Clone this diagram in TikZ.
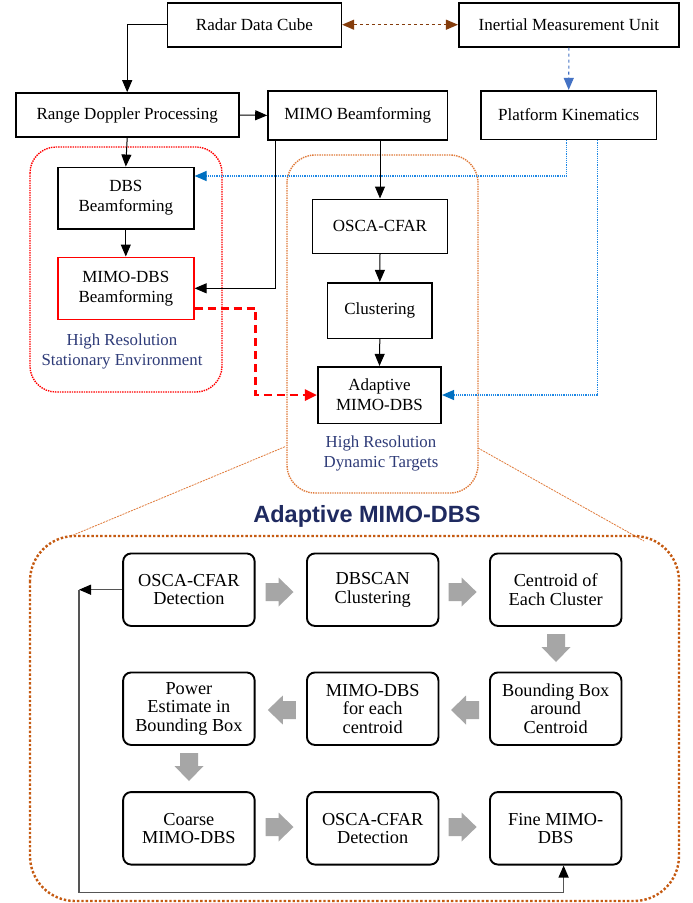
\documentclass[tikz,border=0pt]{standalone}
\usepackage{fontspec}
\setmainfont{Liberation Serif}
\newfontfamily\titlefont{Liberation Sans}
\usetikzlibrary{arrows.meta,calc}
\definecolor{brownarr}{HTML}{843C0C}
\definecolor{imublue}{HTML}{4472C4}
\definecolor{dotblue}{HTML}{1E88E5}
\definecolor{tipblue}{HTML}{0070C0}
\definecolor{regorange}{HTML}{E07A3A}
\definecolor{bigorange}{HTML}{C55A11}
\definecolor{labblue}{HTML}{2E3B78}
\definecolor{titlenavy}{HTML}{1F2A60}
\definecolor{arrowgray}{HTML}{A6A6A6}
\definecolor{fbgray}{HTML}{555555}
\tikzset{
  topbox/.style={draw=black,line width=1.6pt,minimum width=#1,inner sep=0pt,align=center,font=\fontsize{17}{20}\selectfont},
  innerbox/.style={draw=black,line width=1.9pt,rounded corners=8pt,minimum width=131.5pt,minimum height=72.5pt,inner sep=0pt,align=center,font=\fontsize{18.3}{18.5}\selectfont},
  blacktip/.style={-{Triangle[length=12pt,width=10pt]}},
  conn/.style={draw=black,line width=1pt,blacktip},
  bluedot/.style={draw=dotblue,line width=1.2pt,densely dotted,-{Triangle[length=12pt,width=10pt,fill=tipblue,color=tipblue]}},
  region/.style={line width=1.4pt,densely dotted,rounded corners=#1},
  lab/.style={text=labblue,align=center,font=\fontsize{16.8}{20}\selectfont},
  pics/garrow/.style={code={\fill[arrowgray] (-14,-9) -- (-1,-9) -- (-1,-14.5) -- (14,0) -- (-1,14.5) -- (-1,9) -- (-14,9) -- cycle;}}
}
\begin{document}
\begin{tikzpicture}[x=1pt,y=-1pt]
\useasboundingbox (0,0) rectangle (693,903);
\fill[white] (0,0) rectangle (693,903);

% regions
\draw[region=26pt,draw=red] (30,147) rectangle (222,392);
\draw[region=28pt,draw=regorange] (287,155) rectangle (478,493);

% top boxes
\node[topbox=173.7pt,minimum height=44pt] (rdc) at (254.5,24.7) {Radar Data Cube};
\node[topbox=220.3pt,minimum height=44pt] (imu) at (568.9,24.7) {Inertial Measurement Unit};
\node[topbox=223pt,minimum height=44pt] (rdp) at (127.2,115) {Range Doppler Processing};
\node[topbox=179.6pt,minimum height=49pt] (mbf) at (357.8,115.4) {MIMO Beamforming};
\node[topbox=175.4pt,minimum height=48.6pt] (pk) at (568.7,115) {Platform Kinematics};
\node[topbox=136pt,minimum height=61.7pt] (dbs) at (125.8,198.2) {DBS\\Beamforming};
\node[topbox=136pt,minimum height=62pt,draw=red] (mdbs) at (125.8,288.3) {MIMO-DBS\\Beamforming};
\node[topbox=135.2pt,minimum height=54pt] (osca) at (380,226.3) {OSCA-CFAR};
\node[topbox=104.4pt,minimum height=55.6pt] (clus) at (379.8,310.5) {Clustering};
\node[topbox=123.5pt,minimum height=56.6pt] (adap) at (379.5,395) {Adaptive\\MIMO-DBS};

\node[lab] (lab1) at (122,351) {High Resolution\\Stationary Environment};
\node[lab] (lab2) at (381,453.5) {High Resolution\\Dynamic Targets};

% connectors top
\draw[brownarr,line width=1.2pt,dashed,{Triangle[length=12pt,width=10pt]}-{Triangle[length=12pt,width=10pt]}] (rdc.east) -- (imu.west);
\draw[imublue,line width=1.1pt,dashed,-{Triangle[length=12pt,width=10pt]}] (imu.south) -- (pk.north);
\draw[conn] (rdc.west) -| (rdp.north);
\draw[conn] (rdp.east) -- (mbf.west);
\draw[conn] (rdp.south) -- (dbs.north);
\draw[conn] (dbs.south) -- (mdbs.north);
\draw[conn] (mbf.south -| osca.north) -- (osca.north);
\draw[conn] (osca.south) -- (clus.north);
\draw[conn] (clus.south) -- (adap.north);
\coordinate (k1) at (275.6,288.3);
\draw[conn] (mbf.south -| k1) -- (k1) -- (mdbs.east);
\coordinate (r1) at (255.6,308.3);
\coordinate (r2) at (255.6,395);
\draw[red,line width=2.6pt,dash pattern=on 8pt off 5pt,-{Triangle[length=12pt,width=11pt]}] (mdbs.east |- r1) -- (r1) -- (r2) -- (adap.west);
\coordinate (b1) at (566.7,176);
\coordinate (b2) at (597.8,395);
\draw[bluedot] (pk.south -| b1) -- (b1) -- (dbs.east |- b1);
\draw[bluedot] (pk.south -| b2) -- (b2) -- (adap.east);

% zoom lines
\coordinate (z1) at (285,446.7);
\coordinate (z2) at (71,536);
\coordinate (z3) at (478,448);
\coordinate (z4) at (644,541);
\draw[regorange,line width=0.8pt,dash pattern=on 2pt off 1pt] (z1) -- (z2);
\draw[regorange,line width=0.8pt,dash pattern=on 2pt off 1pt] (z3) -- (z4);

% title
\node[text=titlenavy,font=\titlefont\bfseries\fontsize{23.5}{26}\selectfont] (title) at (367,516) {Adaptive MIMO-DBS};

% big region
\draw[bigorange,line width=2.4pt,dotted,rounded corners=45pt] (30,536) rectangle (679,901);

% inner boxes
\node[innerbox] (a1) at (188.9,589.7) {OSCA-CFAR\\Detection};
\node[innerbox] (a2) at (372.7,589.7) {DBSCAN\\Clustering};
\node[innerbox] (a3) at (555.7,589.7) {Centroid of\\Each Cluster};
\node[innerbox] (b3) at (555.7,708.7) {Bounding Box\\around\\Centroid};
\node[innerbox] (b2n) at (372.7,708.7) {MIMO-DBS\\for each\\centroid};
\node[innerbox] (b1n) at (188.9,708.7) {Power\\Estimate in\\Bounding Box};
\node[innerbox] (c1) at (188.9,828.3) {Coarse\\MIMO-DBS};
\node[innerbox] (c2) at (372.7,828.3) {OSCA-CFAR\\Detection};
\node[innerbox] (c3) at (555.7,828.3) {Fine MIMO-\\DBS};

% gray block arrows
\pic at (279.5,592) {garrow};
\pic at (462.6,592) {garrow};
\pic[rotate=-90] at (556,648) {garrow};
\pic[rotate=180] at (465,710) {garrow};
\pic[rotate=180] at (281.8,710) {garrow};
\pic[rotate=-90] at (189,767) {garrow};
\pic at (279.5,827) {garrow};
\pic at (462.6,827) {garrow};

% feedback
\coordinate (f1) at (79,589.7);
\coordinate (f2) at (79,892.7);
\coordinate (f3) at (563.6,892.7);
\draw[fbgray,line width=1.2pt,-{Triangle[length=12pt,width=10pt,color=black]}] (a1.west) -- (f1);
\draw[fbgray,line width=1.2pt,-{Triangle[length=12pt,width=10pt,color=black]}] (f1) -- (f2) -- (f3) -- (c3.south -| f3);
\end{tikzpicture}
\end{document}
